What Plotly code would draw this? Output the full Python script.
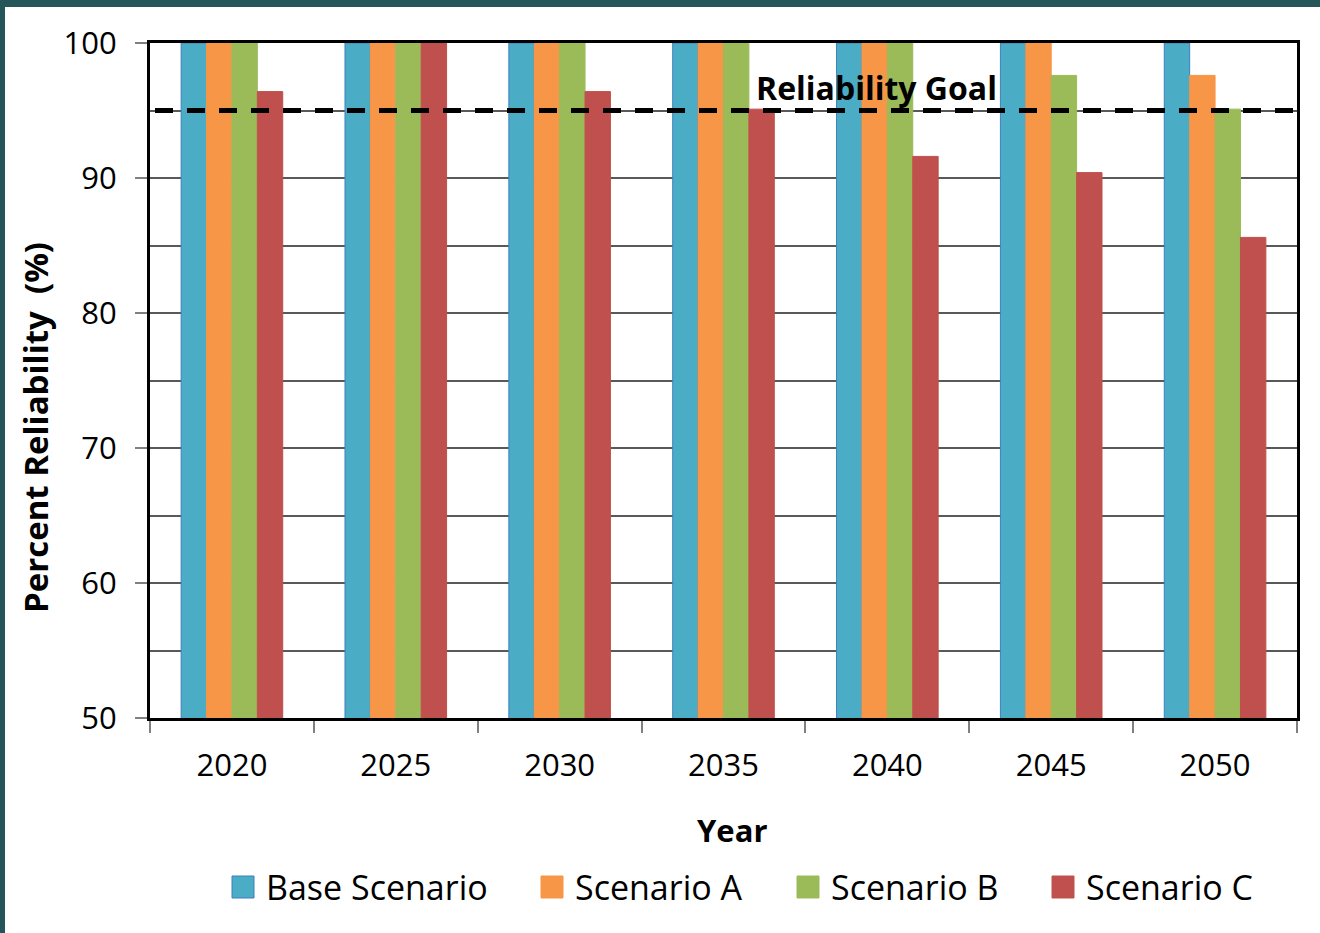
import plotly.graph_objects as go

# data
years = ["2020", "2025", "2030", "2035", "2040", "2045", "2050"]
series_names = ["Base Scenario", "Scenario A", "Scenario B", "Scenario C"]
base_scenario = [100, 100, 100, 100, 100, 100, 100]
scenario_a = [100, 100, 100, 100, 100, 100, 97.6]
scenario_b = [100, 100, 100, 100, 100, 97.6, 95.1]
scenario_c = [96.4, 100, 96.4, 95.1, 91.6, 90.4, 85.6]
reliability_goal = 95

colors = ["#4BACC6", "#F79646", "#9BBB59", "#C0504D"]
outline = ["#3F7FBF", "#F79646", "#9BBB59", "#C0504D"]

W, H = 1320, 933
L, R, T, B = 150, 23, 43, 215
pw, ph = W - L - R, H - T - B


def px(x):
    return (x - L) / pw


def py(y):
    return (H - B - y) / ph


FONT = "'Open Sans', Lato, sans-serif"

fig = go.Figure()
for name, vals, c, lc in zip(series_names, [base_scenario, scenario_a, scenario_b, scenario_c], colors, outline):
    fig.add_trace(go.Bar(x=years, y=vals, name=name, marker=dict(color=c, line=dict(color=lc, width=1)),
                         showlegend=False))

shapes = []
annotations = []

# dashed goal line
shapes.append(dict(type="line", xref="paper", yref="y", x0=px(155), x1=1, y0=reliability_goal, y1=reliability_goal,
                   line=dict(color="black", width=5, dash="18px,14px")))
annotations.append(dict(text="<b>Reliability Goal</b>", xref="paper", yref="paper", x=px(876), y=py(87),
                        xanchor="center", yanchor="middle",
                        showarrow=False, font=dict(size=32, color="black", family=FONT)))

# axis titles
annotations.append(dict(text="<b>Percent Reliability&nbsp; (%)</b>", xref="paper", yref="paper", x=px(35), y=py(428),
                        xanchor="center", yanchor="middle",
                        textangle=-90, showarrow=False, font=dict(size=33, color="black", family=FONT)))
annotations.append(dict(text="<b>Year</b>", xref="paper", yref="paper", x=px(732), y=py(830),
                        xanchor="center", yanchor="middle",
                        showarrow=False, font=dict(size=31, color="black", family=FONT)))

# legend drawn by hand so the swatches match the reference size
legend_x = [232, 541, 797, 1052]
for name, c, lc, x0 in zip(series_names, colors, outline, legend_x):
    shapes.append(dict(type="rect", xref="paper", yref="paper", x0=px(x0), x1=px(x0 + 22), y0=py(898), y1=py(876),
                       fillcolor=c, line=dict(color=lc, width=1)))
    annotations.append(dict(text=name, xref="paper", yref="paper", x=px(x0 + 32), y=py(887),
                            xanchor="left", yanchor="middle",
                            showarrow=False, font=dict(size=34, color="black", family=FONT)))

# teal frame at top and left of the slide
shapes.append(dict(type="rect", xref="paper", yref="paper", x0=px(0), x1=px(W), y0=py(7), y1=py(0),
                   fillcolor="#245559", line=dict(width=0), layer="above"))
shapes.append(dict(type="rect", xref="paper", yref="paper", x0=px(0), x1=px(5), y0=py(H), y1=py(0),
                   fillcolor="#245559", line=dict(width=0), layer="above"))

fig.update_layout(
    width=W, height=H,
    margin=dict(l=L, r=R, t=T, b=B),
    paper_bgcolor="white", plot_bgcolor="white",
    barmode="group", bargap=0.38, bargroupgap=0,
    font=dict(family=FONT, color="black"),
    shapes=shapes, annotations=annotations,
)
fig.update_xaxes(
    type="category", range=[-0.5, 6.5],
    showline=True, linecolor="black", linewidth=3, mirror=True,
    ticks="outside", tickson="boundaries", ticklen=12, tickcolor="#808080", tickwidth=1.5,
    tickfont=dict(size=31, family=FONT), ticklabelstandoff=18,
    showgrid=False,
)
fig.update_yaxes(
    range=[50, 100], dtick=10,
    showline=True, linecolor="black", linewidth=3, mirror=True,
    ticks="outside", ticklen=12, tickcolor="#808080", tickwidth=1.5,
    tickfont=dict(size=31, family=FONT), ticklabelstandoff=12,
    showgrid=True, gridcolor="#595959", gridwidth=2,
    minor=dict(dtick=5, showgrid=True, gridcolor="#595959", gridwidth=2, ticks=""),
    zeroline=False,
)

fig.write_html("out.html", config={"displayModeBar": False},
               post_script="document.body.style.margin='0';")
